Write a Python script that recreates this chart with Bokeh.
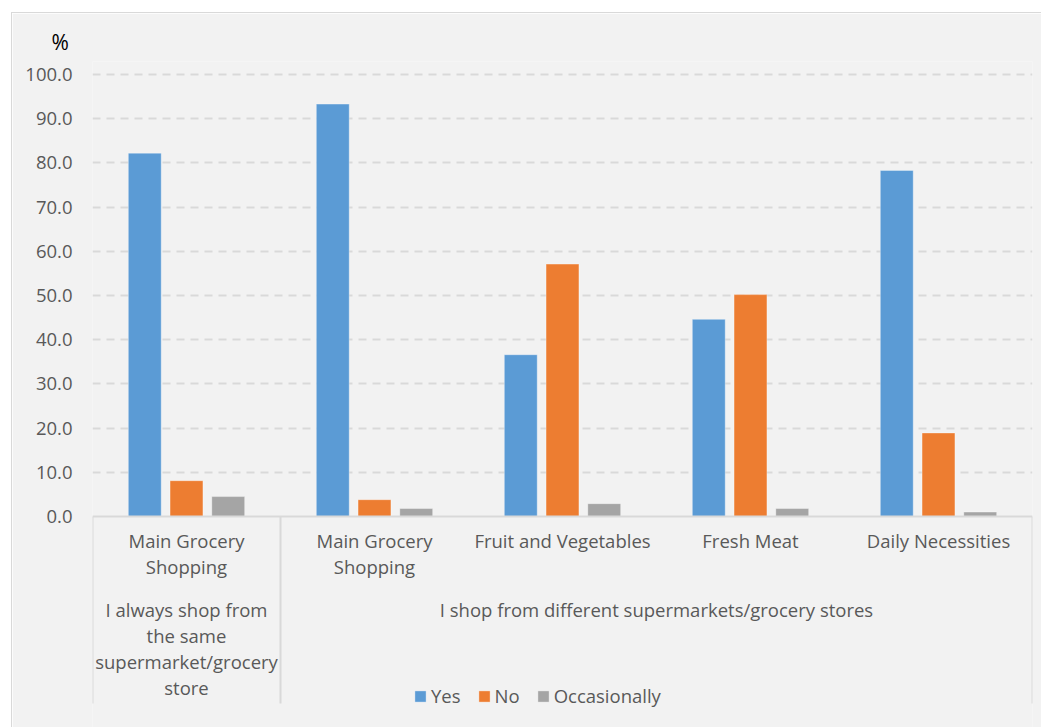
from bokeh.plotting import figure
from bokeh.models import (Range1d, FixedTicker, NumeralTickFormatter, Legend, LegendItem,
                          ColumnDataSource, Title)
from bokeh.core.properties import value
from bokeh.embed import file_html
from bokeh.resources import INLINE

# ---- data ----
items = ["Main Grocery\nShopping", "Main Grocery\nShopping", "Fruit and Vegetables",
         "Fresh Meat", "Daily Necessities"]
groups = ["I always shop from\nthe same\nsupermarket/grocery\nstore",
          "I shop from different supermarkets/grocery stores"]
group_sizes = [1, 4]
series_names = ["Yes", "No", "Occasionally"]
yes = [82.2, 93.3, 36.6, 44.6, 78.3]
no = [8.1, 3.8, 57.1, 50.2, 18.9]
occasionally = [4.5, 1.8, 2.9, 1.8, 1.0]
y_ticks = [0, 10, 20, 30, 40, 50, 60, 70, 80, 90, 100]

colors = ["#5b9bd5", "#ed7d31", "#a5a5a5"]
FONT = value("Open Sans")
TXT = "#595959"
FS = "18.5px"

n = len(items)
px_per_unit = 4.42
frame_h = 667
y_top = 102.94
y_bot = y_top - frame_h / px_per_unit

p = figure(width=1030, height=715, output_backend="svg", toolbar_location=None,
           x_range=Range1d(0, n), y_range=Range1d(y_bot, y_top),
           min_border_left=80, min_border_right=10, min_border_top=48, min_border_bottom=0,
           background_fill_color="#f2f2f2", border_fill_color="#f2f2f2",
           outline_line_color=None)
p.margin = (12, 0, 0, 11)
p.styles = {"border-top": "1px solid #d9d9d9", "border-left": "1px solid #d9d9d9"}

p.xaxis.visible = False
p.xgrid.visible = False
yax = p.yaxis[0]
yax.ticker = FixedTicker(ticks=y_ticks)
yax.formatter = NumeralTickFormatter(format="0.0")
yax.axis_line_color = None
yax.major_tick_line_color = None
yax.minor_tick_line_color = None
yax.major_tick_out = 0
yax.major_label_standoff = 20
yax.major_label_text_font = "Open Sans"
yax.major_label_text_font_size = FS
yax.major_label_text_color = TXT

p.ygrid.ticker = FixedTicker(ticks=y_ticks[1:])
p.ygrid.grid_line_color = "#d9d9d9"
p.ygrid.grid_line_width = 2
p.ygrid.grid_line_dash = "8 6"

# bars
centers = [i + 0.5 for i in range(n)]
offsets = [-0.222, 0.0, 0.222]
renderers = []
for vals, off, col in zip([yes, no, occasionally], offsets, colors):
    src = ColumnDataSource(dict(x=[c + off for c in centers], top=vals))
    r = p.vbar(x="x", top="top", bottom=0, width=0.175, source=src,
               fill_color=col, line_color="white", line_alpha=0.35, line_width=1)
    renderers.append(r)

# baseline and separators
p.segment(x0=[0], y0=[0], x1=[n], y1=[0], line_color="#d9d9d9", line_width=2)
sep_bottom = (515 - 702) / px_per_unit
bounds = [0]
for g in group_sizes:
    bounds.append(bounds[-1] + g)
p.segment(x0=bounds, y0=[0] * len(bounds), x1=bounds, y1=[sep_bottom] * len(bounds),
          line_color="#d9d9d9", line_width=2)

# category labels
p.text(x=centers, y=[-2.6] * n, text=items, text_align="center", text_baseline="top",
       text_font=FONT, text_font_size=FS, text_color=TXT, text_line_height=1.04)
gx = [(bounds[i] + bounds[i + 1]) / 2 for i in range(len(group_sizes))]
p.text(x=gx, y=[-18.2] * len(gx), text=groups, text_align="center", text_baseline="top",
       text_font=FONT, text_font_size=FS, text_color=TXT, text_line_height=1.04)

# "%" title
t = Title(text="%", align="left", offset=-41, text_font="Open Sans", text_font_size="21px",
          text_color="#000000", text_font_style="normal", standoff=11)
p.add_layout(t, "above")

legend = Legend(items=[LegendItem(label=s, renderers=[r]) for s, r in zip(series_names, renderers)],
                orientation="horizontal", location=(321, 20), padding=0, margin=0,
                spacing=16, label_standoff=4, glyph_width=14, glyph_height=14,
                label_height=20, border_line_color=None, background_fill_alpha=0,
                label_text_font="Open Sans", label_text_font_size=FS, label_text_color=TXT)
p.add_layout(legend)

open("out.html", "w").write(file_html(p, INLINE))
